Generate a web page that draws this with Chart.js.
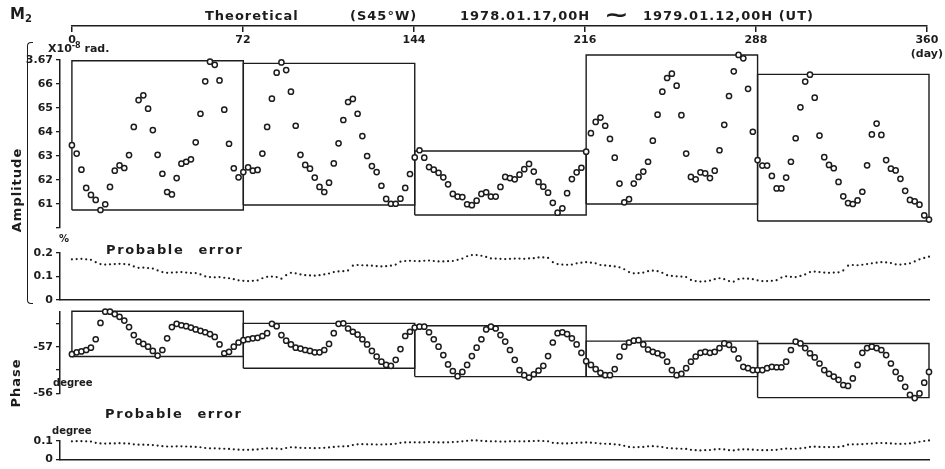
<!DOCTYPE html>
<html>
<head>
<meta charset="utf-8">
<script src="https://cdn.jsdelivr.net/npm/chart.js@4.4.1/dist/chart.umd.min.js"></script>
<style>
  html, body { margin: 0; padding: 0; background: #fff; }
  #page { position: relative; width: 945px; height: 469px; overflow: hidden;
          font-family: "DejaVu Sans", sans-serif; font-weight: bold; color: #1c1c1c; }
  canvas { position: absolute; left: 0; }
  .t { position: absolute; white-space: nowrap; line-height: 1; }
  .big { font-size: 13px; letter-spacing: 1px; }
  .pe { font-size: 13px; letter-spacing: 1.6px; word-spacing: 8px; }
  .sm { font-size: 10px; }
  .rot { transform: translate(-50%, -50%) rotate(-90deg); font-size: 13px; letter-spacing: 1px; }
  #bracket { position: absolute; left: 27px; top: 42px; width: 5px; height: 260px;
             border: 1.5px solid #1c1c1c; border-right: none; border-radius: 4px 0 0 4px; }
</style>
</head>
<body>
<div id="page">
  <canvas id="axisChart" style="top:0px" width="945" height="60"></canvas>
  <canvas id="ampChart" style="top:40px" width="945" height="200"></canvas>
  <canvas id="ampErrChart" style="top:240px" width="945" height="70"></canvas>
  <canvas id="phaseChart" style="top:300px" width="945" height="105"></canvas>
  <canvas id="phaseErrChart" style="top:425px" width="945" height="44"></canvas>

  <div class="t" style="left:10px;top:7px;font-size:15px">M<span style="font-size:10px;position:relative;top:3px">2</span></div>
  <div class="t big" style="left:205px;top:9px">Theoretical</div>
  <div class="t big" style="left:350px;top:9px">(S45°W)</div>
  <div class="t big" style="left:460px;top:9px">1978.01.17,00H</div>
  <div class="t" style="left:604px;top:4px;font-size:22px;transform:scaleX(1.35);transform-origin:left">∼</div>
  <div class="t big" style="left:643px;top:9px">1979.01.12,00H (UT)</div>

  <div class="t" style="left:48px;top:43px;font-size:11px">X10<span style="font-size:8px;position:relative;top:-4px">-8</span> rad.</div>
  <div class="t sm" style="left:59px;top:234px">%</div>
  <div class="t pe" style="left:106px;top:243px">Probable error</div>
  <div class="t sm" style="left:53px;top:378px">degree</div>
  <div class="t pe" style="left:105px;top:407px">Probable error</div>
  <div class="t sm" style="left:52px;top:426px">degree</div>
  <div class="t rot" style="left:16px;top:190px">Amplitude</div>
  <div class="t rot" style="left:15px;top:383px">Phase</div>
  <div id="bracket"></div>
</div>

<script>
// setup
const ink = '#1c1c1c';
const days = Array.from({ length: 181 }, (_, i) => i * 2);
const axisTicks = [0, 72, 144, 216, 288, 360];
const segStart = [0, 72, 144, 216, 288];
const segEnd = [72, 144, 216, 288, 360];

// amplitude, x10^-8 rad
const amplitude = [
  3.6345, 3.6310, 3.6243, 3.6167, 3.6138, 3.6117, 3.6075, 3.6099, 3.6171, 3.6239,
  3.6261, 3.6250, 3.6304, 3.6421, 3.6533, 3.6553, 3.6497, 3.6408, 3.6305, 3.6226,
  3.6150, 3.6140, 3.6208, 3.6268, 3.6276, 3.6286, 3.6357, 3.6476, 3.6611, 3.6693,
  3.6680, 3.6615, 3.6493, 3.6351, 3.6249, 3.6211, 3.6233, 3.6253, 3.6239, 3.6242,
  3.6310, 3.6421, 3.6539, 3.6647, 3.6690, 3.6658, 3.6568, 3.6426, 3.6305, 3.6263,
  3.6247, 3.6210, 3.6171, 3.6150, 3.6189, 3.6269, 3.6353, 3.6450, 3.6525, 3.6538,
  3.6476, 3.6383, 3.6300, 3.6258, 3.6233, 3.6176, 3.6121, 3.6101, 3.6101, 3.6122,
  3.6167, 3.6225, 3.6294, 3.6324, 3.6293, 3.6254, 3.6243, 3.6230, 3.6211, 3.6182,
  3.6142, 3.6131, 3.6129, 3.6099, 3.6095, 3.6114, 3.6142, 3.6149, 3.6131, 3.6131,
  3.6171, 3.6213, 3.6208, 3.6203, 3.6222, 3.6245, 3.6267, 3.6235, 3.6192, 3.6172,
  3.6147, 3.6105, 3.6064, 3.6082, 3.6145, 3.6204, 3.6232, 3.6251, 3.6318, 3.6395,
  3.6442, 3.6460, 3.6426, 3.6371, 3.6293, 3.6185, 3.6107, 3.6120, 3.6185, 3.6213,
  3.6235, 3.6276, 3.6364, 3.6472, 3.6568, 3.6625, 3.6643, 3.6593, 3.6470, 3.6310,
  3.6213, 3.6203, 3.6232, 3.6228, 3.6208, 3.6239, 3.6324, 3.6430, 3.6550, 3.6653,
  3.6721, 3.6707, 3.6580, 3.6401, 3.6283, 3.6260, 3.6260, 3.6217, 3.6165, 3.6165,
  3.6210, 3.6276, 3.6374, 3.6503, 3.6610, 3.6639, 3.6543, 3.6385, 3.6295, 3.6263,
  3.6249, 3.6192, 3.6132, 3.6104, 3.6100, 3.6115, 3.6151, 3.6261, 3.6390, 3.6435,
  3.6388, 3.6283, 3.6247, 3.6240, 3.6205, 3.6155, 3.6117, 3.6111, 3.6097, 3.6053,
  3.6035
];
const ampBoxTop = [3.6697, 3.6686, 3.6321, 3.6721, 3.6640];
const ampBoxBottom = [3.6075, 3.6096, 3.6054, 3.6100, 3.6029];
const ampTicks = [3.60, 3.61, 3.62, 3.63, 3.64, 3.65, 3.66, 3.67];

// probable error of amplitude, %
const ampError = [
  0.172, 0.173, 0.174, 0.172, 0.170, 0.160, 0.152, 0.150, 0.151, 0.152,
  0.153, 0.152, 0.150, 0.142, 0.136, 0.137, 0.135, 0.133, 0.125, 0.118,
  0.115, 0.116, 0.117, 0.118, 0.116, 0.114, 0.114, 0.108, 0.100, 0.097,
  0.096, 0.097, 0.094, 0.092, 0.088, 0.083, 0.081, 0.080, 0.081, 0.083,
  0.092, 0.098, 0.099, 0.097, 0.090, 0.105, 0.115, 0.113, 0.108, 0.105,
  0.104, 0.103, 0.105, 0.108, 0.112, 0.118, 0.121, 0.122, 0.125, 0.145,
  0.148, 0.147, 0.146, 0.145, 0.143, 0.142, 0.143, 0.145, 0.150, 0.162,
  0.165, 0.166, 0.165, 0.164, 0.166, 0.167, 0.165, 0.163, 0.163, 0.164,
  0.165, 0.170, 0.175, 0.185, 0.190, 0.190, 0.187, 0.182, 0.176, 0.175,
  0.174, 0.173, 0.174, 0.175, 0.175, 0.174, 0.176, 0.177, 0.180, 0.180,
  0.178, 0.160, 0.152, 0.150, 0.149, 0.150, 0.155, 0.158, 0.160, 0.158,
  0.155, 0.148, 0.146, 0.144, 0.142, 0.138, 0.130, 0.118, 0.113, 0.114,
  0.116, 0.122, 0.124, 0.122, 0.115, 0.105, 0.102, 0.100, 0.099, 0.097,
  0.085, 0.080, 0.078, 0.079, 0.082, 0.088, 0.092, 0.088, 0.080, 0.078,
  0.088, 0.091, 0.090, 0.088, 0.083, 0.080, 0.080, 0.081, 0.084, 0.095,
  0.100, 0.098, 0.097, 0.102, 0.108, 0.118, 0.120, 0.118, 0.116, 0.115,
  0.116, 0.117, 0.125, 0.145, 0.148, 0.147, 0.149, 0.152, 0.155, 0.158,
  0.160, 0.159, 0.156, 0.151, 0.150, 0.152, 0.155, 0.163, 0.172, 0.178,
  0.183
];
const ampErrTicks = [0, 0.1, 0.2];

// phase, degree
const phase = [
  -56.84, -56.88, -56.90, -56.93, -56.98, -57.16, -57.51, -57.75, -57.75, -57.70,
  -57.64, -57.56, -57.42, -57.25, -57.11, -57.06, -57.00, -56.91, -56.81, -56.93,
  -57.18, -57.42, -57.49, -57.46, -57.44, -57.41, -57.37, -57.34, -57.31, -57.27,
  -57.21, -57.05, -56.86, -56.89, -57.00, -57.09, -57.14, -57.16, -57.18, -57.19,
  -57.23, -57.29, -57.49, -57.44, -57.25, -57.13, -57.05, -56.98, -56.96, -56.93,
  -56.91, -56.88, -56.88, -56.93, -57.06, -57.29, -57.49, -57.50, -57.39, -57.32,
  -57.26, -57.16, -57.05, -56.91, -56.79, -56.68, -56.61, -56.59, -56.72, -56.95,
  -57.23, -57.32, -57.41, -57.43, -57.43, -57.31, -57.16, -57.00, -56.82, -56.62,
  -56.48, -56.37, -56.46, -56.61, -56.80, -56.98, -57.16, -57.37, -57.43, -57.39,
  -57.25, -57.11, -56.93, -56.72, -56.50, -56.39, -56.34, -56.41, -56.49, -56.59,
  -56.80, -57.09, -57.29, -57.31, -57.27, -57.18, -57.05, -56.87, -56.69, -56.61,
  -56.52, -56.44, -56.39, -56.39, -56.52, -56.79, -57.00, -57.09, -57.13, -57.14,
  -57.05, -56.94, -56.89, -56.86, -56.82, -56.68, -56.50, -56.39, -56.42, -56.54,
  -56.68, -56.79, -56.87, -56.89, -56.87, -56.89, -56.97, -57.07, -57.04, -56.94,
  -56.75, -56.57, -56.54, -56.50, -56.50, -56.50, -56.54, -56.57, -56.56, -56.56,
  -56.68, -56.93, -57.11, -57.07, -56.97, -56.86, -56.77, -56.64, -56.50, -56.42,
  -56.36, -56.29, -56.18, -56.16, -56.32, -56.61, -56.87, -56.97, -57.00, -56.97,
  -56.93, -56.82, -56.64, -56.46, -56.32, -56.14, -55.97, -55.90, -56.00, -56.23,
  -56.46
];
const phaseBoxTop = [-57.76, -57.50, -57.45, -57.12, -57.07];
const phaseBoxBottom = [-56.79, -56.54, -56.36, -56.36, -55.91];
const phaseTicks = [-57.5, -57, -56.5, -56];
const phaseLabels = { '-57': '-57', '-56': '-56' };

// probable error of phase, degree
const phaseError = [
  0.098, 0.099, 0.099, 0.098, 0.097, 0.090, 0.087, 0.086, 0.087, 0.087,
  0.088, 0.087, 0.086, 0.082, 0.080, 0.080, 0.079, 0.078, 0.075, 0.072,
  0.070, 0.070, 0.071, 0.071, 0.070, 0.069, 0.068, 0.066, 0.062, 0.060,
  0.060, 0.059, 0.058, 0.057, 0.055, 0.053, 0.052, 0.052, 0.053, 0.054,
  0.058, 0.060, 0.060, 0.059, 0.056, 0.062, 0.066, 0.065, 0.063, 0.062,
  0.062, 0.061, 0.062, 0.063, 0.065, 0.068, 0.070, 0.071, 0.072, 0.078,
  0.082, 0.083, 0.082, 0.082, 0.081, 0.081, 0.082, 0.083, 0.085, 0.090,
  0.092, 0.093, 0.093, 0.092, 0.093, 0.094, 0.093, 0.092, 0.092, 0.093,
  0.094, 0.096, 0.098, 0.101, 0.103, 0.103, 0.101, 0.099, 0.098, 0.098,
  0.097, 0.097, 0.098, 0.098, 0.098, 0.098, 0.099, 0.100, 0.101, 0.100,
  0.098, 0.090, 0.088, 0.087, 0.087, 0.088, 0.090, 0.091, 0.092, 0.091,
  0.089, 0.086, 0.085, 0.084, 0.082, 0.079, 0.074, 0.068, 0.066, 0.067,
  0.068, 0.071, 0.072, 0.070, 0.067, 0.062, 0.060, 0.059, 0.058, 0.057,
  0.052, 0.050, 0.049, 0.050, 0.051, 0.054, 0.056, 0.054, 0.050, 0.049,
  0.053, 0.055, 0.054, 0.053, 0.051, 0.050, 0.050, 0.051, 0.052, 0.056,
  0.059, 0.058, 0.058, 0.060, 0.063, 0.068, 0.069, 0.068, 0.067, 0.067,
  0.067, 0.068, 0.072, 0.080, 0.082, 0.082, 0.083, 0.085, 0.086, 0.088,
  0.089, 0.088, 0.087, 0.085, 0.084, 0.085, 0.087, 0.091, 0.096, 0.100,
  0.103
];
const phaseErrTicks = [0, 0.1];

// helpers
const font = { family: '"DejaVu Sans", sans-serif', weight: 'bold', size: 11 };
const points = (vals) => days.map((d, i) => ({ x: d, y: vals[i] }));
const boxes = (tops, bottoms) => segStart.map((s, i) => ({
  data: [
    { x: s, y: bottoms[i] }, { x: s, y: tops[i] },
    { x: segEnd[i], y: tops[i] }, { x: segEnd[i], y: bottoms[i] },
    { x: s, y: bottoms[i] }
  ],
  showLine: true, borderColor: ink, borderWidth: 1.4, pointRadius: 0, clip: false
}));
const circles = (vals) => ({
  data: points(vals), showLine: false, pointStyle: 'circle', pointRadius: 2.6,
  pointBorderWidth: 1.5, pointBorderColor: ink, pointBackgroundColor: '#fff', clip: false
});
const dots = (vals) => ({
  data: points(vals), showLine: false, pointRadius: 1.1, pointBorderWidth: 0,
  pointBackgroundColor: ink, clip: false
});
const fixTicks = (list) => (s) => { s.ticks = list.map(v => ({ value: v })); };

const xHidden = { type: 'linear', min: -5, max: 360, display: false };
const xBase = {
  type: 'linear', min: -5, max: 360, display: true,
  ticks: { display: false }, grid: { display: false, drawTicks: false },
  border: { display: true, color: ink, width: 1.5 },
  afterFit: (s) => { s.height = 0; }
};
const yAxis = (opts) => Object.assign({
  type: 'linear',
  afterFit: (s) => { s.width = 60; },
  grid: { display: true, drawOnChartArea: false, drawTicks: true, tickLength: 4, color: ink, lineWidth: 1.3 },
  border: { display: true, color: ink, width: 1.5 },
  ticks: { font, color: ink, padding: 3, autoSkip: false }
}, opts);

function panel(id, datasets, x, y, padTop, padBottom) {
  return new Chart(document.getElementById(id), {
    type: 'scatter',
    data: { datasets },
    options: {
      responsive: false, animation: false, events: [],
      layout: { padding: { left: 0, right: 16, top: padTop, bottom: padBottom } },
      plugins: { legend: { display: false }, tooltip: { enabled: false } },
      scales: { x, y }
    }
  });
}

// top day axis
new Chart(document.getElementById('axisChart'), {
  type: 'scatter',
  data: { datasets: [] },
  options: {
    responsive: false, animation: false, events: [],
    layout: { padding: { left: 72, right: 16, top: 0, bottom: 0 } },
    plugins: { legend: { display: false }, tooltip: { enabled: false } },
    scales: {
      y: { display: false },
      x: {
        type: 'linear', position: 'bottom', min: 0, max: 360,
        afterBuildTicks: fixTicks(axisTicks),
        afterFit: (s) => { s.height = 34; },
        grid: { display: true, drawOnChartArea: false, drawTicks: true, tickLength: 6, color: ink, lineWidth: 1.5 },
        border: { display: true, color: ink, width: 1.5 },
        ticks: {
          font, color: ink, padding: 2, maxRotation: 0, autoSkip: false,
          callback: (v) => v === 360 ? ['360', '(day)'] : String(v)
        }
      }
    }
  }
});

// amplitude
panel('ampChart',
  [circles(amplitude)].concat(boxes(ampBoxTop, ampBoxBottom)),
  xHidden,
  yAxis({
    min: 3.60, max: 3.67,
    afterBuildTicks: fixTicks(ampTicks),
    ticks: Object.assign({}, yAxis({}).ticks, {
      callback: (v) => {
        const k = Math.round(v * 100);
        if (k === 367) return '3.67';
        if (k === 360) return '';
        return String(k - 300);
      }
    })
  }),
  20, 12);

// amplitude probable error
panel('ampErrChart', [dots(ampError)], xBase,
  yAxis({
    min: 0, max: 0.2,
    afterBuildTicks: fixTicks(ampErrTicks),
    ticks: Object.assign({}, yAxis({}).ticks, { callback: (v) => v === 0 ? '0' : v.toFixed(1) })
  }),
  12.7, 10);

// phase
panel('phaseChart',
  [circles(phase)].concat(boxes(phaseBoxTop, phaseBoxBottom)),
  xHidden,
  yAxis({
    min: -57.75, max: -56, reverse: true,
    afterBuildTicks: fixTicks(phaseTicks),
    ticks: Object.assign({}, yAxis({}).ticks, { callback: (v) => phaseLabels[String(v)] || '' })
  }),
  11.7, 11.6);

// phase probable error
panel('phaseErrChart', [dots(phaseError)], xBase,
  yAxis({
    min: 0, max: 0.1,
    afterBuildTicks: fixTicks(phaseErrTicks),
    ticks: Object.assign({}, yAxis({}).ticks, { callback: (v) => v === 0 ? '0' : v.toFixed(1) })
  }),
  16, 6);
</script>
</body>
</html>
